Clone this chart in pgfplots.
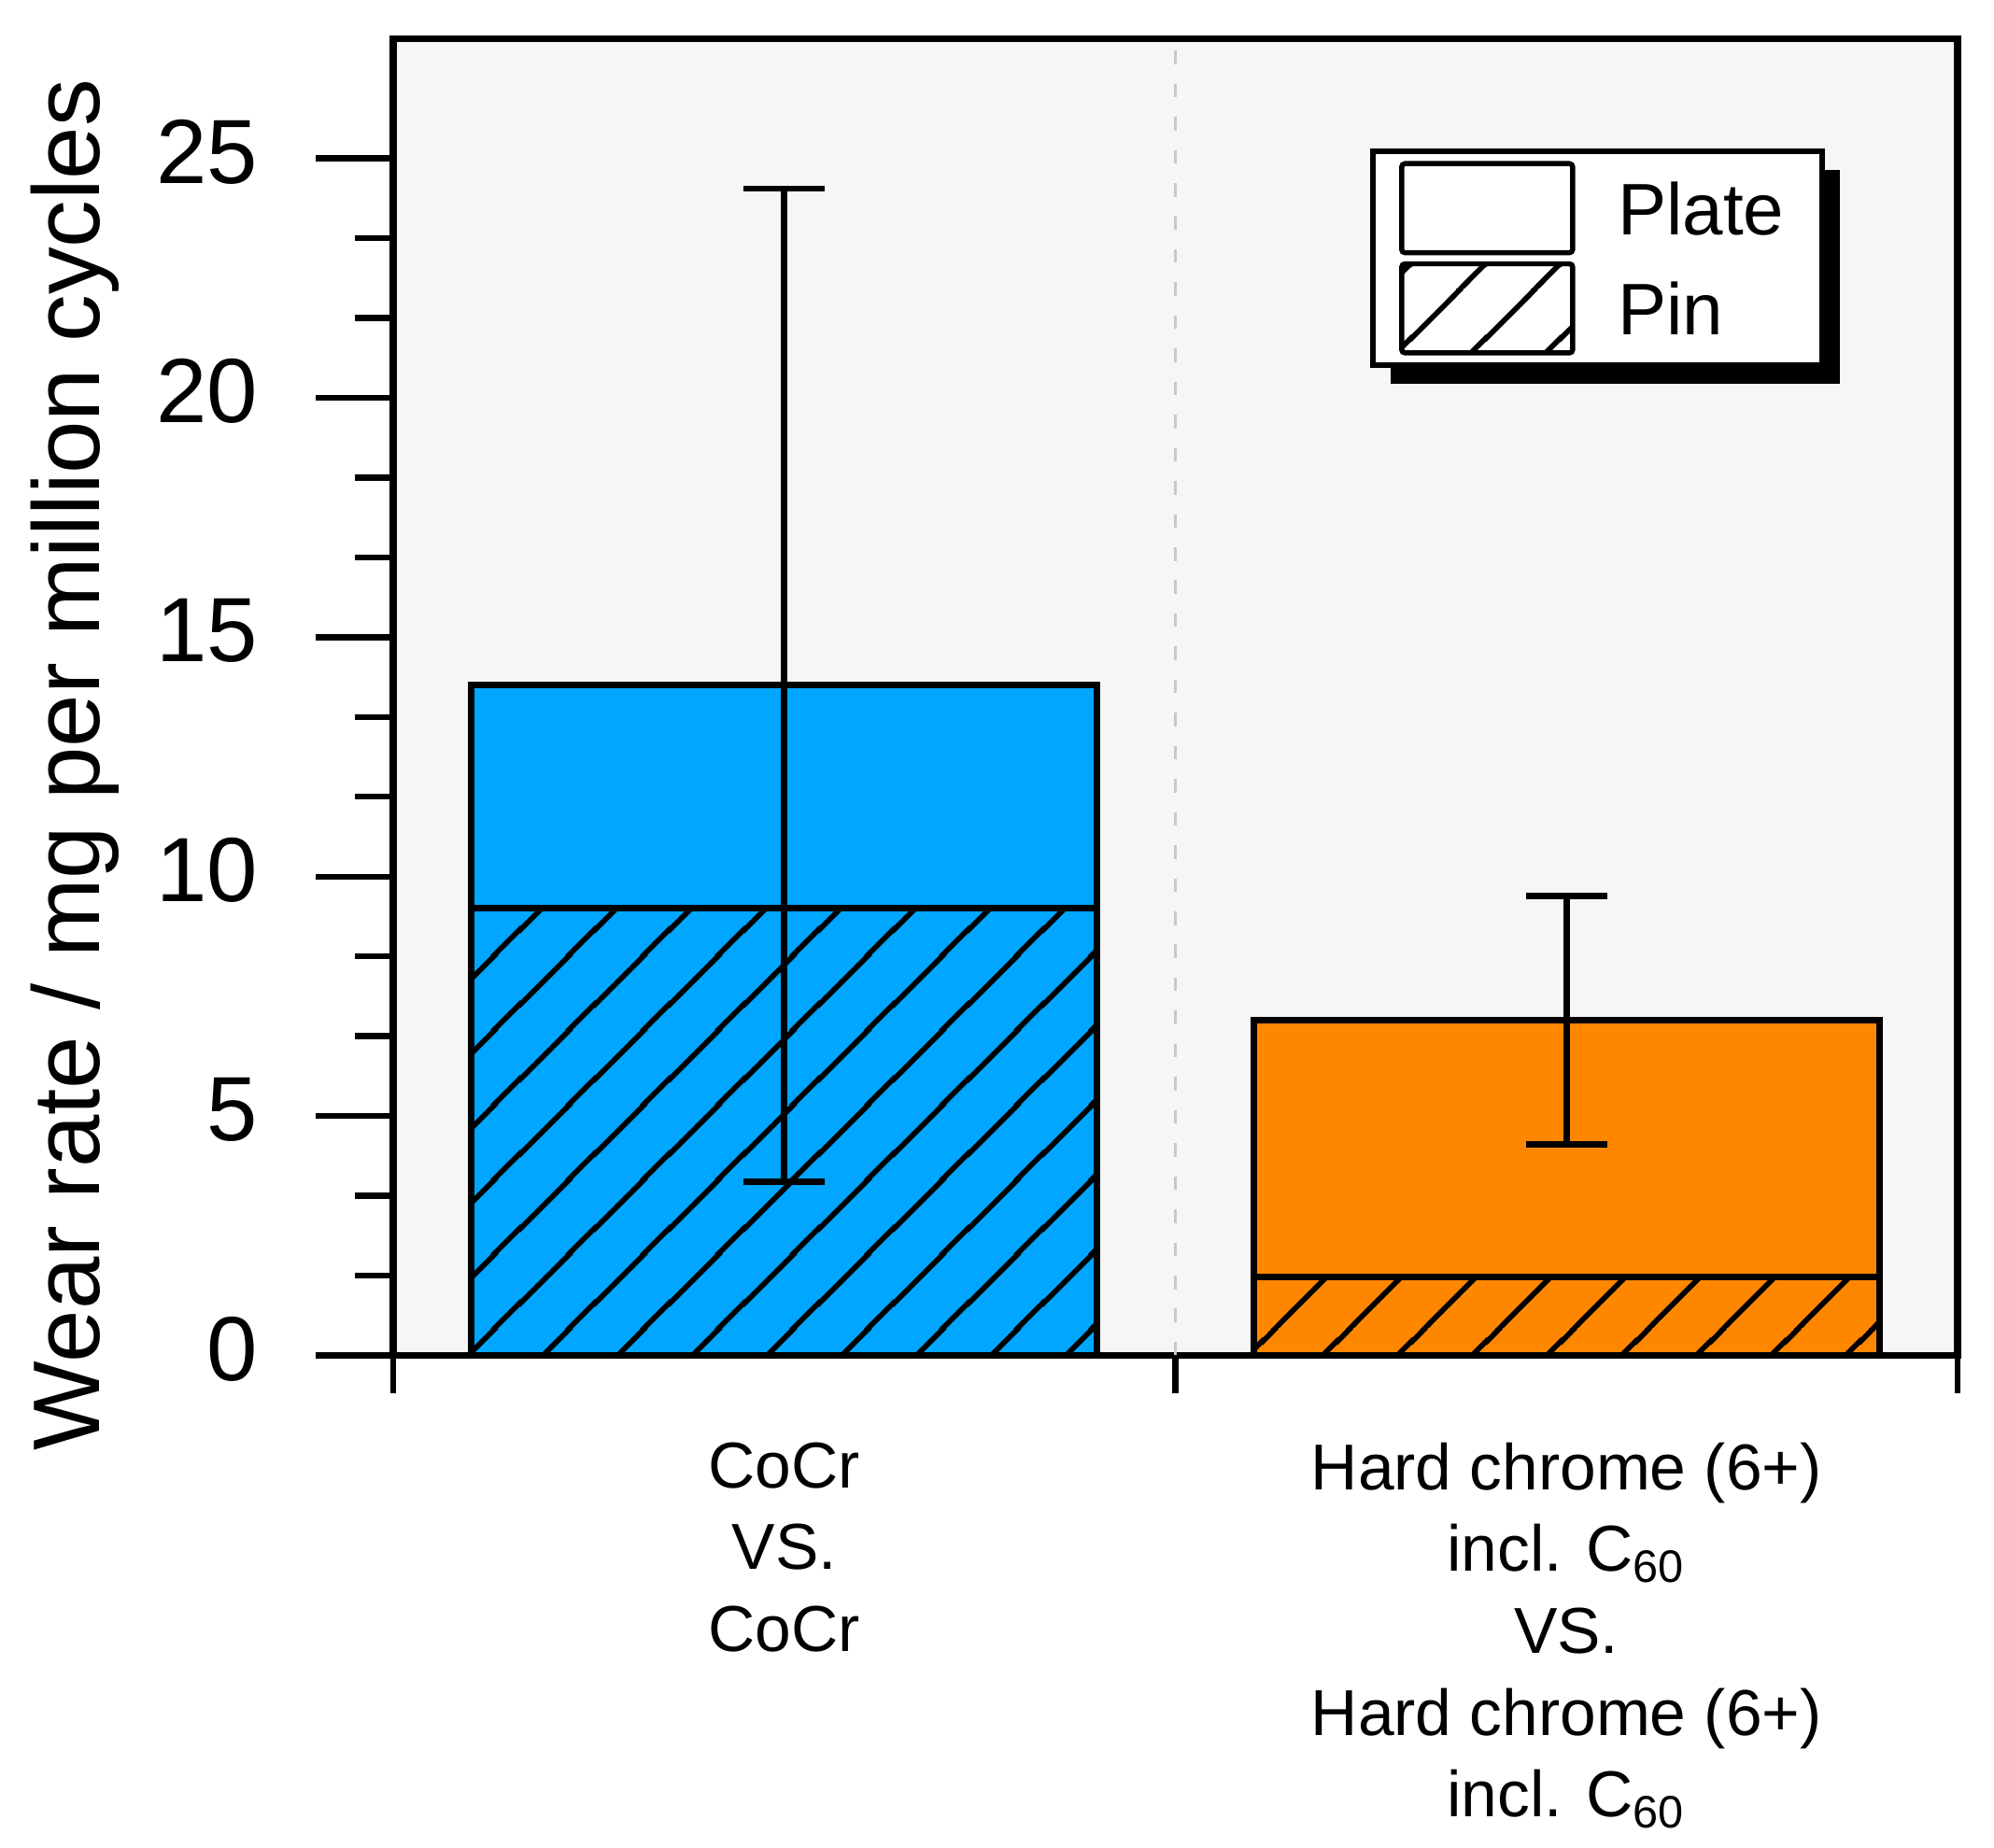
\documentclass[border=0pt]{standalone}
\usepackage{fontspec}
\setmainfont{Liberation Sans}
\usepackage{pgfplots}
\pgfplotsset{compat=1.18}
\usetikzlibrary{patterns.meta,shadows}

\definecolor{cblue}{RGB}{0,166,255}
\definecolor{corange}{RGB}{255,135,0}
\definecolor{bggray}{RGB}{246,246,246}
\definecolor{dashgray}{RGB}{200,200,200}

\tikzdeclarepattern{
  name=hatchA,
  type=uncolored,
  bounding box={(0pt,0pt) and (17.5pt,17.5pt)},
  tile size={(17.5pt,17.5pt)},
  code={\draw[line width=1.25pt] (-2pt,3.8pt) -- (19.5pt,25.3pt);
        \draw[line width=1.25pt] (-2pt,-13.7pt) -- (19.5pt,7.8pt);}
}
\tikzdeclarepattern{
  name=hatchB,
  type=uncolored,
  bounding box={(0pt,0pt) and (17.5pt,17.5pt)},
  tile size={(17.5pt,17.5pt)},
  code={\draw[line width=1.25pt] (-2pt,12.4pt) -- (19.5pt,33.9pt);
        \draw[line width=1.25pt] (-2pt,-5.1pt) -- (19.5pt,16.4pt);}
}

\begin{document}
\begin{tikzpicture}
\begin{axis}[
  at={(0pt,0pt)}, anchor=south west,
  scale only axis,
  width=368.5pt, height=310.2pt,
  xmin=-0.5, xmax=1.5, ymin=0, ymax=27.5,
  axis background/.style={fill=bggray},
  axis line style={line width=1.6pt, black},
  tick align=outside,
  xtick pos=bottom, ytick pos=left,
  ytick={0,5,10,15,20,25},
  minor y tick num=2,
  xtick={0,1},
  minor xtick={-0.5,0.5,1.5},
  major tick length=18.3pt,
  minor tick length=9pt,
  tick style={line width=1.4pt, black},
  major x tick style={draw=none},
  /pgf/number format/assume math mode=true,
  yticklabel style={font=\fontsize{21.5}{25}\selectfont, anchor=east, inner sep=0pt, xshift=-13.4pt, yshift=1.5pt},
  xticklabels={{CoCr\\VS.\\CoCr},{Hard chrome (6+)\\incl. C\textsubscript{60}\\VS.\\Hard chrome (6+)\\incl. C\textsubscript{60}}},
  xticklabel style={font=\fontsize{15.3}{19.3}\selectfont, align=center, anchor=north, inner sep=0pt, yshift=-2.0pt},
  ylabel={Wear rate / mg per million cycles},
  ylabel style={at={(axis description cs:-0.2033,0.4486)}, anchor=center, inner sep=0pt, font=\fontsize{22.3}{26}\selectfont},
  legend style={at={(axis description cs:0.6245,0.9165)}, anchor=north west,
    draw=black, line width=1.25pt, fill=white,
    inner xsep=6.2pt, inner ysep=2.3pt, row sep=1.4pt, column sep=10.0pt,
    nodes={inner sep=0pt, text depth=0pt, font=\fontsize{17.2}{20}\selectfont},
    cells={anchor=west},
    drop shadow={shadow xshift=4.2pt, shadow yshift=-4.4pt, fill=black, opacity=1}},
]
\addplot[dashgray, line width=0.8pt, dash pattern=on 3.2pt off 4.6pt, forget plot] coordinates {(0.5,0) (0.5,27.5)};

\addplot[ybar, bar width=0.8, bar shift=0pt, fill=cblue, draw=black, line width=1.5pt, forget plot] coordinates {(0,14.0)};
\addplot[ybar, bar width=0.8, bar shift=0pt, fill=cblue, draw=black, line width=1.5pt, postaction={pattern=hatchA, pattern color=black}, forget plot] coordinates {(0,9.34)};

\addplot[ybar, bar width=0.8, bar shift=0pt, fill=corange, draw=black, line width=1.5pt, forget plot] coordinates {(1,7.0)};
\addplot[ybar, bar width=0.8, bar shift=0pt, fill=corange, draw=black, line width=1.5pt, postaction={pattern=hatchB, pattern color=black}, forget plot] coordinates {(1,1.64)};

\addplot[draw=none, mark=none, forget plot,
  error bars/.cd, y dir=both, y explicit,
  error bar style={draw=black, solid, line width=1.5pt},
  error mark options={rotate=90, mark size=9.6pt, line width=1.5pt, draw=black}]
  coordinates {(0,14.0) +- (0,10.37) (1,7.0) +- (0,2.59)};

\addlegendimage{legend image code/.code={%
  \pgfsetlinewidth{1.2pt}\pgfsetstrokecolor{black}\pgfsetfillcolor{white}%
  \pgfsetcornersarced{\pgfpoint{0.8pt}{0.8pt}}%
  \pgfpathrectangle{\pgfpoint{0pt}{-10.5pt}}{\pgfpoint{40.3pt}{21.0pt}}%
  \pgfusepath{fill,stroke}}}
\addlegendentry{Plate\hspace*{2.7pt}}
\addlegendimage{legend image code/.code={%
  \pgfsetlinewidth{1.2pt}\pgfsetstrokecolor{black}\pgfsetfillcolor{white}%
  \pgfpathrectangle{\pgfpoint{0pt}{-10.5pt}}{\pgfpoint{40.3pt}{21.0pt}}%
  \pgfusepath{fill}%
  \pgfsetfillpattern{hatchA}{black}%
  \pgfpathrectangle{\pgfpoint{0pt}{-10.5pt}}{\pgfpoint{40.3pt}{21.0pt}}%
  \pgfusepath{fill}%
  \pgfsetcornersarced{\pgfpoint{0.8pt}{0.8pt}}%
  \pgfpathrectangle{\pgfpoint{0pt}{-10.5pt}}{\pgfpoint{40.3pt}{21.0pt}}%
  \pgfusepath{stroke}}}
\addlegendentry{Pin}
\end{axis}
\pgfresetboundingbox
\path[use as bounding box] (-92.62pt,-116.05pt) rectangle (377.08pt,319.33pt);
\end{tikzpicture}
\end{document}
